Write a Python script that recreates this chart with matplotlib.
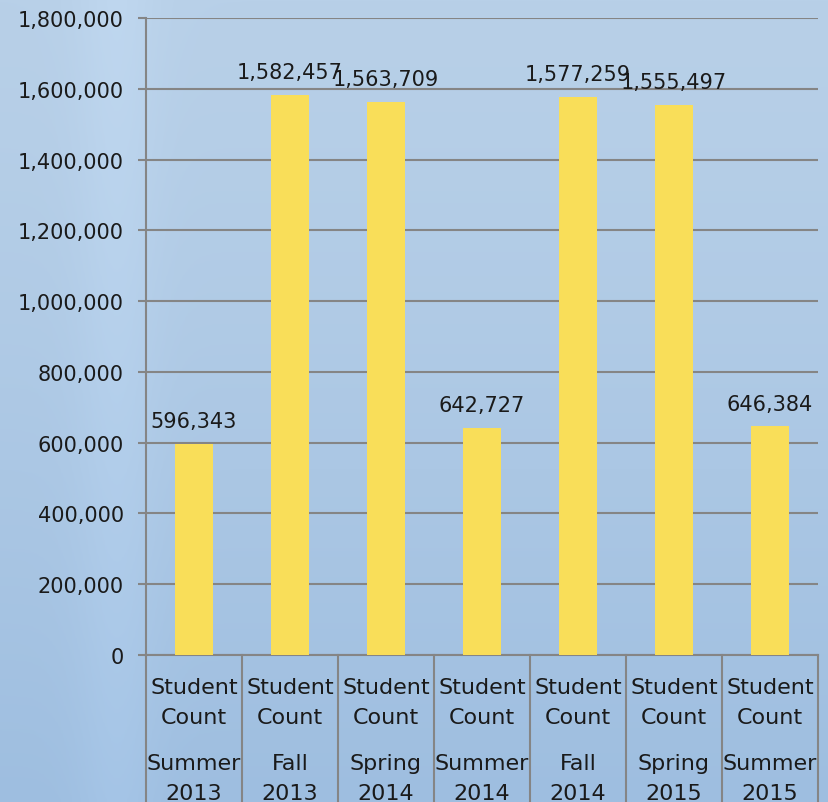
import numpy as np
import matplotlib.pyplot as plt

terms = ['Summer\n2013', 'Fall\n2013', 'Spring\n2014', 'Summer\n2014',
         'Fall\n2014', 'Spring\n2015', 'Summer\n2015']
series = 'Student\nCount'
counts = [596343, 1582457, 1563709, 642727, 1577259, 1555497, 646384]
yticks = list(range(0, 1800001, 200000))

plt.rcParams['font.family'] = ['DejaVu Sans']
fig = plt.figure(figsize=(8.29, 8.03), dpi=100)

# blue backdrop
bg = fig.add_axes([0, 0, 1, 1], zorder=-1)
rows = np.linspace(0, 1, 200)[:, None]
cols = np.linspace(0, 1, 300)[None, :]
top = np.array([184, 208, 232]) / 255
bot = np.array([158, 190, 224]) / 255
shade = top + (bot - top) * rows[..., None] ** 1.3
stripe = 0.025 * np.exp(-((cols - 0.14) / 0.05) ** 2)
img = np.clip(shade + stripe[..., None], 0, 1)
bg.imshow(img, aspect='auto', extent=[0, 1, 0, 1])
bg.axis('off')

ax = fig.add_axes([146 / 829, 1 - 656 / 803, 672 / 829, 637 / 803])
ax.patch.set_alpha(0)
x = np.arange(len(counts))
bars = ax.bar(x, counts, width=0.4, color='#F9DE59', zorder=3)
for xi, v in zip(x, counts):
    ax.annotate(f'{v:,}', (xi, v), xytext=(0, 12), textcoords='offset points',
                ha='center', va='baseline', fontsize=15, color='#1a1a1a')

ax.set_xlim(-0.5, len(counts) - 0.5)
ax.set_ylim(0, 1800000)
ax.set_yticks(yticks)
ax.set_yticklabels([f'{t:,}' for t in yticks], fontsize=15, color='#1a1a1a')
ax.grid(axis='y', color='#858585', linewidth=1.5, zorder=0)
ax.tick_params(axis='y', length=6, width=1.5, color='#858585', pad=10)
ax.set_xticks([])
for s in ['top', 'right']:
    ax.spines[s].set_visible(False)
for s in ['left', 'bottom']:
    ax.spines[s].set_color('#858585')
    ax.spines[s].set_linewidth(1.5)

# category boxes under the axis
trans = ax.get_xaxis_transform()
for b in np.arange(len(counts) + 1) - 0.5:
    ax.plot([b, b], [0, -0.24], color='#858585', linewidth=1.5,
            transform=trans, clip_on=False)
baselines = [694, 724, 770, 800]
for xi, t in zip(x, terms):
    lines = series.split('\n') + t.split('\n')
    for line, yb in zip(lines, baselines):
        ax.text(xi, (656 - yb) / 637, line, transform=trans, ha='center',
                va='baseline', fontsize=16, color='#1a1a1a')

fig.savefig('out.png', dpi=100)
